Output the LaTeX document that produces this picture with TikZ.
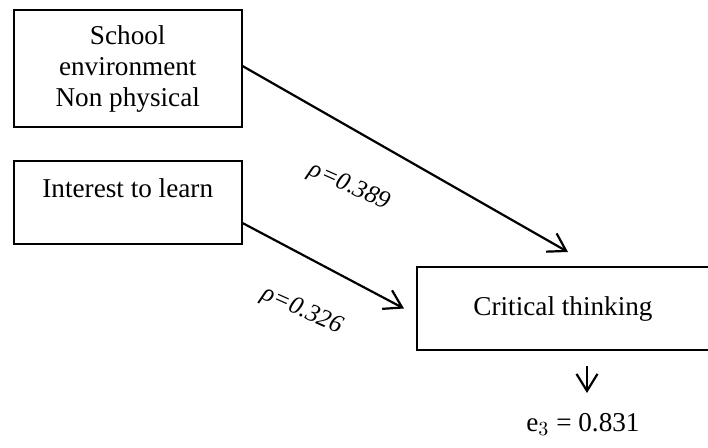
\documentclass[tikz,border=0pt]{standalone}
\usepackage{fontspec}
\setmainfont{Liberation Serif}
\usetikzlibrary{arrows.meta}
\begin{document}
\begin{tikzpicture}[x=0.5pt, y=-0.5pt,
  box/.style={draw, line width=1pt, inner sep=0pt, align=center,
    font=\fontsize{13.6}{15.5}\selectfont},
  arr/.style={line width=1.1pt, -{Straight Barb[length=8.5pt, width=10.5pt, line width=1.1pt]}},
  coef/.style={font=\fontsize{12.6}{14}\selectfont\itshape, inner sep=0pt}]
  \path[use as bounding box, clip] (0,0) rectangle (708,447);

  % predictor boxes
  \node[box, minimum width=113.75pt, minimum height=58.5pt] (env) at (127.75,68.5)
    {School\\environment\\Non physical};
  \node[box, anchor=base, minimum width=113.75pt, text height=18pt, text depth=23.5pt]
    (interest) at (127.75,197) {Interest to learn};

  % outcome box
  \node[box, minimum width=146pt, minimum height=41.5pt] (crit) at (563,308.5)
    {Critical thinking};

  % residual
  \node[font=\fontsize{13.6}{15.5}\selectfont, anchor=base, inner sep=0pt] (res) at (583,431)
    {e$_3$ = 0.831};

  % paths
  \draw[arr] ([yshift=1.25pt]env.east) -- ([xshift=2.5pt, yshift=7pt]crit.north);
  \draw[arr] ([yshift=-10.25pt]interest.east) -- ([xshift=-6pt]crit.west);
  \draw[arr] ([xshift=12pt, yshift=-7.5pt]crit.south) -- ([xshift=12pt, yshift=-21pt]crit.south);

  % path coefficients
  \node[coef, rotate=-24] (c1) at (349.5,187) {ρ=0.389};
  \node[coef, rotate=-24] (c2) at (302,311) {ρ=0.326};
\end{tikzpicture}
\end{document}
